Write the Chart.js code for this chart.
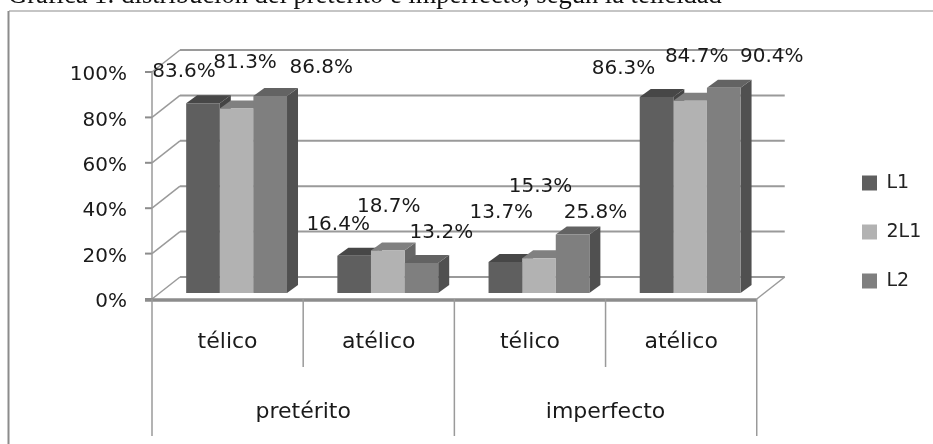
<!DOCTYPE html>
<html><head><meta charset="utf-8">
<style>html,body{margin:0;padding:0;background:#fff;overflow:hidden}canvas{display:block}</style>
<script src="https://cdn.jsdelivr.net/npm/chart.js@4"></script></head>
<body><canvas id="c" width="933" height="444"></canvas>
<script>
const categories = ['télico','atélico','télico','atélico'];
const groups = ['pretérito','imperfecto'];
const L1 = [83.6,16.4,13.7,86.3];
const L2a = [81.3,18.7,15.3,84.7];
const L2 = [86.8,13.2,25.8,90.4];
const seriesNames = ['L1','2L1','L2'];
const yTicks = [0,20,40,60,80,100];
const titleText = 'Gráfica 1: distribución del pretérito e imperfecto, según la telicidad';

const frontColors = ['#5f5f5f','#b2b2b2','#7f7f7f'];
const topColors = ['#474747','#808080','#636363'];
const sideColors = ['#454545','#666666','#505050'];
const gridColor = '#9a9a9a';
const FONT = '"DejaVu Sans"';
const FRONT = {dx:-9, dy:6};
const BACK = {dx:19, dy:-16};
const DEPTH = {dx:11, dy:-8};
// label placement relative to the top centre of its bar [series][category]
const labelShift = [
  [[-19,-31],[-16,-31],[-4,-49],[-33,-28]],
  [[8.5,-46],[1,-43.5],[1.5,-71],[6.5,-44]],
  [[51,-28],[20,-30],[23,-22],[48,-31]]
];
function line(ctx,x1,y1,x2,y2,w,col){ctx.beginPath();ctx.moveTo(x1,y1);ctx.lineTo(x2,y2);ctx.lineWidth=w;ctx.strokeStyle=col;ctx.stroke();}
function poly(ctx,pts,col){ctx.beginPath();pts.forEach((p,i)=>i?ctx.lineTo(p[0],p[1]):ctx.moveTo(p[0],p[1]));ctx.closePath();ctx.fillStyle=col;ctx.fill();}

const scene = {
  id:'scene',
  beforeDraw(chart){
    const ctx=chart.ctx, leg=chart.legend;
    const h=leg.height;
    leg.left = 832; leg.right = 933; leg.top = 232 - h/2; leg.bottom = leg.top+h;
    ctx.save();
    ctx.fillStyle='#fff';ctx.fillRect(0,0,933,444);
    line(ctx,9,11,933,11,1.2,'#8c8c8c');
    line(ctx,8.5,11,8.5,444,2,'#8c8c8c');
    ctx.fillStyle='#111';ctx.font='26.5px "Liberation Serif"';ctx.textBaseline='alphabetic';ctx.textAlign='left';
    ctx.fillText(titleText,8,3);
    ctx.restore();
  },
  beforeDatasetsDraw(chart){
    const ctx=chart.ctx,{x,y}=chart.scales,a=chart.chartArea;
    ctx.save();
    const fx=a.left+FRONT.dx, rx=a.right+FRONT.dx;
    const bx=a.left+BACK.dx, brx=a.right+BACK.dx;
    yTicks.forEach(v=>{
      const py=y.getPixelForValue(v);
      line(ctx,bx,py+BACK.dy,brx,py+BACK.dy,2,gridColor);
      line(ctx,fx,py+FRONT.dy,bx,py+BACK.dy,1.5,gridColor);
      line(ctx,fx-7,py+FRONT.dy,fx,py+FRONT.dy,2,'#8c8c8c');
    });
    const y0=y.getPixelForValue(0);
    line(ctx,rx,y0+FRONT.dy,brx,y0+BACK.dy,1.5,gridColor);
    line(ctx,fx,y.getPixelForValue(100)+FRONT.dy,fx,y0+FRONT.dy,1.5,gridColor);
    line(ctx,fx-7,y0+FRONT.dy+1,rx,y0+FRONT.dy+1,3.5,'#8c8c8c');
    const step=(a.right-a.left)/categories.length;
    for(let i=0;i<=categories.length;i++){
      const px=a.left+i*step+FRONT.dx;
      line(ctx,px,y0+FRONT.dy,px,y0+FRONT.dy+(i%2?68:137),1.5,gridColor);
    }
    chart.data.datasets.forEach((d,di)=>{
      chart.getDatasetMeta(di).data.forEach(b=>{
        const l=b.x-b.width/2,r=b.x+b.width/2,t=b.y,bot=b.base;
        poly(ctx,[[r,t],[r+DEPTH.dx,t+DEPTH.dy],[r+DEPTH.dx,bot+DEPTH.dy],[r,bot]],sideColors[di]);
        poly(ctx,[[l,t],[l+DEPTH.dx,t+DEPTH.dy],[r+DEPTH.dx,t+DEPTH.dy],[r,t]],topColors[di]);
      });
    });
    ctx.restore();
  },
  afterDatasetsDraw(chart){
    const ctx=chart.ctx;
    ctx.save();
    ctx.fillStyle='#1a1a1a';ctx.font='20px '+FONT;ctx.textAlign='center';ctx.textBaseline='middle';
    chart.data.datasets.forEach((d,di)=>{
      chart.getDatasetMeta(di).data.forEach((b,i)=>{
        const s=labelShift[di][i];
        ctx.fillText(d.data[i].toFixed(1)+'%',b.x+s[0],b.y+s[1]);
      });
    });
    ctx.restore();
  }
};

const chart = new Chart(document.getElementById('c'),{
  type:'bar',
  data:{labels:categories,datasets:[L1,L2a,L2].map((v,i)=>({label:seriesNames[i],data:v,backgroundColor:frontColors[i],borderWidth:0}))},
  plugins:[scene],
  options:{
    responsive:false,animation:false,
    layout:{padding:{left:0,top:66,right:68,bottom:0}},
    datasets:{bar:{categoryPercentage:0.667,barPercentage:1}},
    plugins:{
      title:{display:false},tooltip:{enabled:false},
      legend:{display:true,position:'right',
        labels:{boxWidth:15,boxHeight:15,padding:30,color:'#222',font:{family:'"DejaVu Sans"',size:19}}}
    },
    scales:{
      y:{min:0,max:100,position:'left',
        afterFit(s){s.width=161;},
        afterBuildTicks(s){s.ticks=yTicks.map(v=>({value:v}));},
        grid:{display:false,drawTicks:false},border:{display:false},
        ticks:{padding:34,labelOffset:9,color:'#1a1a1a',font:{family:'"DejaVu Sans"',size:20},callback:v=>v+'%'}},
      x:{position:'bottom',
        afterFit(s){s.height=80;},
        grid:{display:false,drawTicks:false},border:{display:false},
        ticks:{padding:36,labelOffset:-9,maxRotation:0,color:'#1a1a1a',font:{family:'"DejaVu Sans"',size:22}}},
      x2:{type:'category',labels:groups,position:'bottom',
        afterFit(s){s.height=71;},
        grid:{display:false,drawTicks:false},border:{display:false},
        ticks:{padding:26,labelOffset:-9,maxRotation:0,color:'#1a1a1a',font:{family:'"DejaVu Sans"',size:22}}}
    }
  }
});
</script></body></html>
